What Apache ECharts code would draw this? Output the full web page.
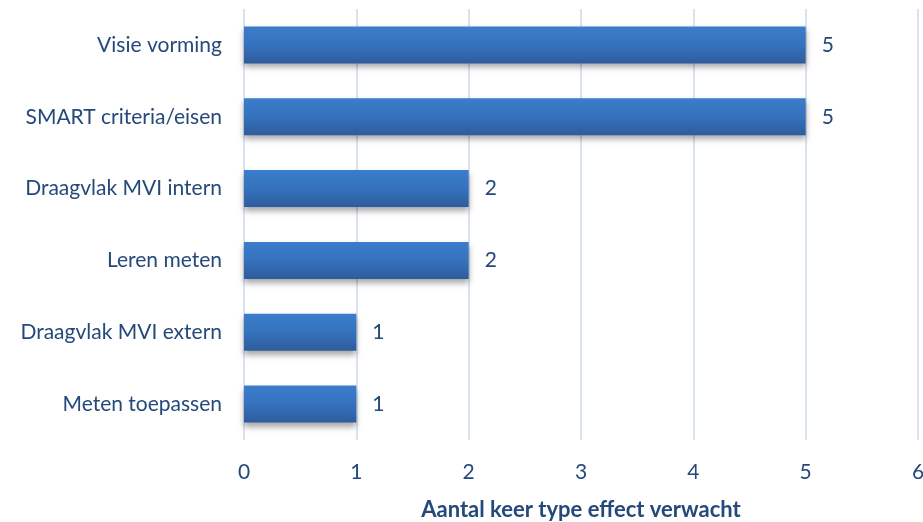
<!DOCTYPE html>
<html>
<head>
<meta charset="utf-8">
<script src="https://cdn.jsdelivr.net/npm/echarts@6/dist/echarts.min.js"></script>
<style>
  html, body { margin: 0; padding: 0; background: #fff; }
  #chart { width: 923px; height: 522px; }
</style>
</head>
<body>
<div id="chart"></div>
<script>
// Categories listed top to bottom
const categories = [
  'Visie vorming',
  'SMART criteria/eisen',
  'Draagvlak MVI intern',
  'Leren meten',
  'Draagvlak MVI extern',
  'Meten toepassen'
];
const counts = [5, 5, 2, 2, 1, 1];
const xTicks = [0, 1, 2, 3, 4, 5, 6];
const axisTitle = 'Aantal keer type effect verwacht';

const textColor = '#24497a';
const fontFamily = 'Lato, "Open Sans", sans-serif';
const fontSize = 21;

const chart = echarts.init(document.getElementById('chart'));
chart.setOption({
  animation: false,
  grid: { left: 244, right: 5, top: 9, bottom: 82, containLabel: false, outerBoundsMode: 'none' },
  xAxis: {
    type: 'value',
    min: xTicks[0],
    max: xTicks[xTicks.length - 1],
    interval: 1,
    name: axisTitle,
    nameLocation: 'middle',
    nameGap: 59,
    nameTextStyle: { color: textColor, fontSize: 22, fontWeight: 'bold', fontFamily },
    axisLine: { show: false },
    axisTick: { show: false },
    axisLabel: { color: textColor, fontSize: fontSize, fontFamily, margin: 22 },
    splitLine: { show: true, lineStyle: { color: '#d9e2ef', width: 2 } }
  },
  yAxis: {
    type: 'category',
    data: categories.slice().reverse(),
    axisLine: { show: false },
    axisTick: { show: false },
    axisLabel: { color: textColor, fontSize: fontSize, fontFamily, margin: 22 }
  },
  series: [{
    type: 'bar',
    data: counts.slice().reverse(),
    barWidth: 37,
    itemStyle: {
      color: new echarts.graphic.LinearGradient(0, 0, 0, 1, [
        { offset: 0, color: '#3b7dcc' },
        { offset: 0.5, color: '#3672bd' },
        { offset: 1, color: '#2d5c9c' }
      ]),
      shadowColor: 'rgba(0,0,0,0.35)',
      shadowBlur: 6,
      shadowOffsetY: 4
    },
    label: {
      show: true,
      position: 'right',
      distance: 16,
      color: textColor,
      fontSize: fontSize,
      fontFamily
    }
  }]
});
</script>
</body>
</html>
